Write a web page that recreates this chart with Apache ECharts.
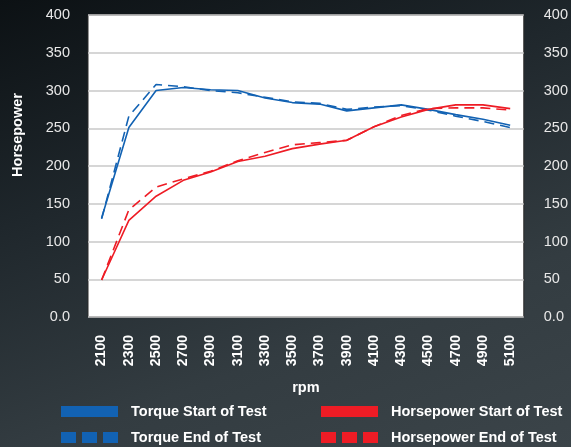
<!DOCTYPE html>
<html>
<head>
<meta charset="utf-8">
<script src="https://cdn.jsdelivr.net/npm/echarts@6/dist/echarts.min.js"></script>
<style>
  html, body { margin: 0; padding: 0; }
  #chart {
    width: 571px; height: 447px;
    background: linear-gradient(160deg, #0c1114 0%, #1f272c 35%, #333c41 70%, #3b4449 100%);
  }
</style>
</head>
<body>
<div id="chart"></div>
<script>
var rpm = ['2100','2300','2500','2700','2900','3100','3300','3500','3700','3900','4100','4300','4500','4700','4900','5100'];
var torqueStart = [131, 251, 300, 304, 301, 300, 290, 284, 282, 273, 277, 281, 275, 268, 262, 254];
var torqueEnd   = [130, 266, 308, 305, 300, 297, 291, 285, 283, 275, 278, 280, 274, 266, 259, 251];
var hpStart     = [49, 128, 160, 181, 192, 206, 213, 223, 229, 234, 252, 265, 275, 281, 281, 276];
var hpEnd       = [49, 142, 172, 183, 193, 207, 218, 228, 231, 234, 252, 267, 276, 277, 277, 274];

var blue = '#1262b3';
var red = '#ee1c25';
var font = 'Liberation Sans, Arial, sans-serif';
var dashIcon = 'path://M0,0H15V11H0Z M21,0H36V11H21Z M42,0H57V11H42Z';
var solidIcon = 'path://M0,0H57V11H0Z';

function fmt(v) { return v === 0 ? '0.0' : String(v); }

var chart = echarts.init(document.getElementById('chart'));

function yAxis(pos) {
  return {
    type: 'value', position: pos, min: 0, max: 400, interval: 50,
    axisLine: { show: false }, axisTick: { show: false },
    axisLabel: { color: '#e8e8e8', fontSize: 14.5, fontFamily: font, margin: pos === 'left' ? 18 : 20, formatter: fmt },
    splitLine: { show: pos === 'left', lineStyle: { color: '#c8c8c8', width: 1.5 } }
  };
}

function line(name, data, color, dashed) {
  return {
    name: name, type: 'line', data: data, yAxisIndex: 0,
    symbol: 'none', smooth: false,
    lineStyle: { color: color, width: 1.6, type: dashed ? [10, 6] : 'solid' },
    itemStyle: { color: color }
  };
}

function legend(left, top, name, icon) {
  return {
    left: left, top: top,
    itemWidth: 59, itemHeight: 11,
    textStyle: { color: '#ffffff', fontSize: 14.5, fontWeight: 'bold', fontFamily: font, padding: [0, 0, 0, 7] },
    data: [{ name: name, icon: icon }]
  };
}

chart.setOption({
  animation: false,
  grid: { left: 88, right: 46, top: 15, bottom: 130, show: true, backgroundColor: '#ffffff', borderColor: '#2a2a2a', borderWidth: 1 },
  xAxis: {
    type: 'category', data: rpm, boundaryGap: true,
    name: 'rpm', nameLocation: 'middle', nameGap: 63,
    nameTextStyle: { color: '#ffffff', fontSize: 14.5, fontWeight: 'bold', fontFamily: font },
    axisLine: { show: false }, axisTick: { show: false },
    axisLabel: { rotate: 90, color: '#ffffff', fontSize: 14, fontWeight: 'bold', fontFamily: font, margin: 18 }
  },
  yAxis: [yAxis('left'), yAxis('right')],
  legend: [
    legend(56, 399, 'Torque Start of Test', solidIcon),
    legend(56, 425, 'Torque End of Test', dashIcon),
    legend(316, 399, 'Horsepower Start of Test', solidIcon),
    legend(316, 425, 'Horsepower End of Test', dashIcon)
  ],
  graphic: [{
    type: 'text', x: 18, y: 135, rotation: Math.PI / 2,
    style: { text: 'Horsepower', fill: '#ffffff', fontSize: 14.5, fontWeight: 'bold', fontFamily: font, align: 'center', verticalAlign: 'middle' }
  }],
  series: [
    line('Torque Start of Test', torqueStart, blue, false),
    line('Torque End of Test', torqueEnd, blue, true),
    line('Horsepower Start of Test', hpStart, red, false),
    line('Horsepower End of Test', hpEnd, red, true)
  ]
});
</script>
</body>
</html>
